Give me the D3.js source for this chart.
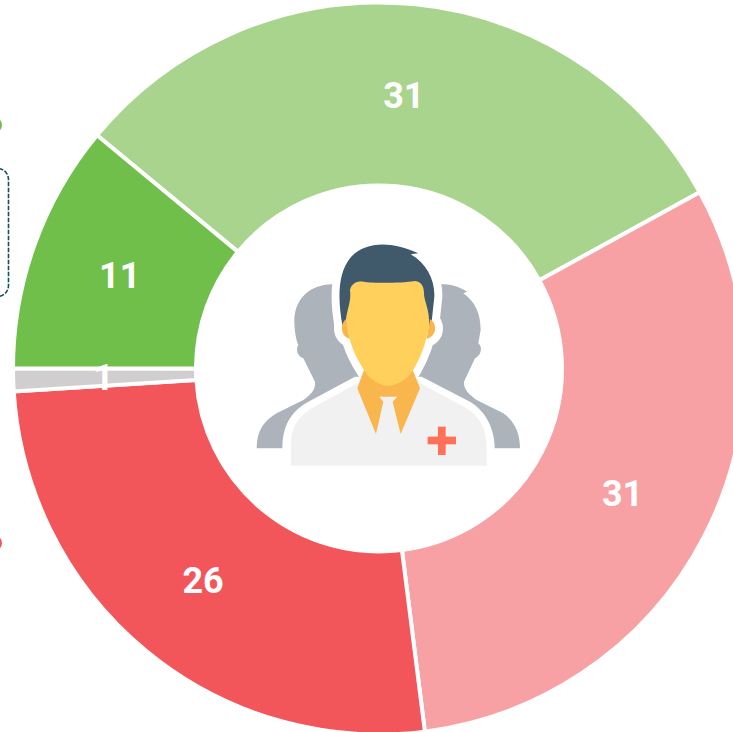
<!DOCTYPE html>
<html><head><meta charset="utf-8">
<script src="https://cdnjs.cloudflare.com/ajax/libs/d3/7.8.5/d3.min.js"></script>
<style>html,body{margin:0;padding:0;background:#fff;overflow:hidden}svg{display:block}</style>
</head><body><svg id="c" width="733" height="732"></svg>
<script>
const categories = ["Light green","Pink","Red","Grey","Green"];
const values = [31,31,26,1,11];
const colors = ["#A9D48E","#F7A1A5","#F2565B","#D0CECE","#70BF4B"];
const svg = d3.select("#c");
const cx = 379, cy = 368.5, R = 366, r = 183;

// clipped neighbours at the left edge
svg.append("circle").attr("cx",-6).attr("cy",125).attr("r",8).attr("fill","#70BF4B");
svg.append("circle").attr("cx",-6).attr("cy",543).attr("r",8).attr("fill","#F2565B");
svg.append("rect").attr("x",-60).attr("y",168.5).attr("width",68.5).attr("height",128).attr("rx",11)
  .attr("fill","none").attr("stroke","#17505A").attr("stroke-width",1.6).attr("stroke-dasharray","4.5 1.5");

const start = -50.4*Math.PI/180;
const pie = d3.pie().sort(null).value(d=>d).startAngle(start).endAngle(start+2*Math.PI);
const arc = d3.arc().innerRadius(r).outerRadius(R);
const g = svg.append("g").attr("transform",`translate(${cx},${cy})`);
const arcs = pie(values);
g.selectAll("path").data(arcs).join("path").attr("d",arc)
  .attr("fill",(d,i)=>colors[i]).attr("stroke","#fff").attr("stroke-width",4);
g.selectAll("text").data(arcs).join("text")
  .attr("x",d=>arc.centroid(d)[0]-1).attr("y",d=>arc.centroid(d)[1]).attr("dy","0.355em")
  .attr("text-anchor","middle").attr("font-family","Roboto,'Liberation Sans',Arial,sans-serif")
  .attr("font-weight","bold").attr("font-size",36).attr("fill","#fff").text(d=>d.data);

// centre icon (drawn in 3x units)
const ic = svg.append("g").attr("transform","translate(240,230) scale(0.3333)");
const GRAY="#ACB3BA", ORG="#F8B64C", FACE="#FFD15C", HAIR="#415A6B", COAT="#F1F1F1", CROSS="#FF7058";
const grayL="M275,163 C210,165 165,205 163,270 C163,300 168,330 175,345 C165,360 175,380 190,385 L225,455 C228,480 210,495 190,510 L110,550 C75,570 50,600 50,655 L400,655 L400,163 Z";
const grayR="M605,163 C635,160 665,175 682,185 L670,190 C705,215 722,250 722,300 L715,340 C728,350 725,375 705,385 L672,455 C670,480 690,495 710,510 L790,550 C825,575 840,610 840,655 L500,655 L500,163 Z";
ic.append("path").attr("d",grayL).attr("fill",GRAY);
ic.append("path").attr("d",grayR).attr("fill",GRAY);
const coat="M153,707 L153,640 C153,590 175,560 215,535 L355,458 L372,425 L518,425 L538,458 L680,535 C720,560 740,600 740,650 L740,707 Z";
const hair="M307,285 C292,200 295,130 330,85 C370,35 450,30 535,70 L512,73 C560,100 585,150 583,200 L574,285 L440,300 Z";
const face="M330,180 C335,160 350,153 370,155 C400,160 480,160 525,153 C545,155 552,170 552,190 C552,215 570,240 567,285 C560,340 540,385 520,420 C500,450 470,467 445,467 C420,467 390,450 372,420 C350,385 325,340 318,270 C320,240 335,215 330,180 Z";
const earL="M318,268 C300,280 300,320 330,327 Z", earR="M570,268 C592,280 592,318 560,327 Z";
// white halo
ic.append("g").attr("fill","#fff").attr("stroke","#fff").attr("stroke-width",48).attr("stroke-linejoin","round")
  .selectAll("path").data([hair,face,earL,earR]).join("path").attr("d",d=>d);
ic.append("path").attr("d","M127,707 L127,655 C127,590 150,545 205,515 L345,440 L545,440 L690,515 C740,545 764,600 764,655 L764,707 Z").attr("fill","#fff");
ic.append("path").attr("d",coat).attr("fill",COAT);
ic.append("path").attr("d","M372,420 L352,475 L408,612 L430,515 L418,500 L472,500 L458,515 L482,612 L540,475 L518,420 Z").attr("fill",ORG);
ic.append("path").attr("d",hair).attr("fill",HAIR);
ic.append("path").attr("d",earL).attr("fill",ORG);
ic.append("path").attr("d",earR).attr("fill",ORG);
ic.append("path").attr("d",face).attr("fill",FACE);
ic.append("rect").attr("x",563).attr("y",620).attr("width",85).attr("height",23).attr("fill",CROSS);
ic.append("rect").attr("x",594).attr("y",590).attr("width",23).attr("height",85).attr("fill",CROSS);
</script></body></html>
